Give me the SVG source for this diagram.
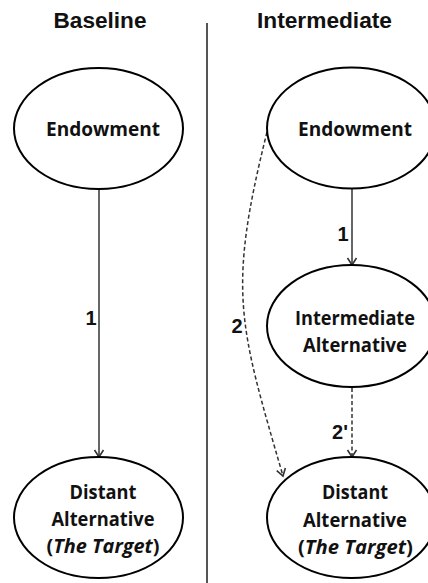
<svg xmlns="http://www.w3.org/2000/svg" width="428" height="583" viewBox="0 0 428 583">
  <defs>
    <marker id="arr" markerUnits="userSpaceOnUse" markerWidth="12" markerHeight="12" viewBox="0 0 12 12" refX="9" refY="6" orient="auto">
      <path d="M2,1.5 L9,6 L2,10.5" fill="none" stroke="#333" stroke-width="1.6"/>
    </marker>
  </defs>
  <style>
    .title { font-family: "Liberation Sans", Arial, sans-serif; font-weight: bold; font-size: 22px; fill: #111; text-anchor: middle; }
    .node ellipse { fill: #fff; stroke: #000; stroke-width: 2; }
    .node text { font-family: "Open Sans", "Liberation Sans", sans-serif; font-weight: bold; font-size: 19px; fill: #111; text-anchor: middle; }
    .conn { fill: none; stroke: #333; stroke-width: 1.5; }
    .dash { stroke-dasharray: 4 2.5; }
    .lbl { font-family: "Liberation Sans", Arial, sans-serif; font-weight: bold; font-size: 20px; fill: #111; text-anchor: middle; }
    .it { font-style: italic; }
  </style>
  <rect width="428" height="583" fill="#fff"/>

  <text class="title" x="100" y="28" textLength="93" lengthAdjust="spacingAndGlyphs">Baseline</text>
  <text class="title" x="324.5" y="28" textLength="135" lengthAdjust="spacingAndGlyphs">Intermediate</text>
  <line x1="207" y1="23" x2="207" y2="583" stroke="#555" stroke-width="2"/>

  <g id="connectors">
    <line class="conn" x1="99" y1="190" x2="99" y2="457" marker-end="url(#arr)"/>
    <line class="conn" x1="352" y1="189" x2="352" y2="265" marker-end="url(#arr)"/>
    <line class="conn dash" x1="352" y1="388" x2="352" y2="457" marker-end="url(#arr)"/>
    <path class="conn dash" d="M267,132 C227,292 239,324 283,476" marker-end="url(#arr)"/>
    <text class="lbl" x="91" y="325">1</text>
    <text class="lbl" x="343" y="241">1</text>
    <text class="lbl" x="237" y="333">2</text>
    <text class="lbl" x="340" y="439">2'</text>
  </g>

  <g id="baseline-endowment" class="node">
    <ellipse cx="98.5" cy="128.5" rx="84.5" ry="60.5"/>
    <text x="103" y="136" textLength="114" lengthAdjust="spacingAndGlyphs">Endowment</text>
  </g>
  <g id="baseline-distant" class="node">
    <ellipse cx="98.5" cy="517.5" rx="84.5" ry="60.5"/>
    <text x="103" y="499" textLength="67" lengthAdjust="spacingAndGlyphs">Distant</text>
    <text x="103" y="526" textLength="103" lengthAdjust="spacingAndGlyphs">Alternative</text>
    <text x="103" y="553" textLength="113" lengthAdjust="spacingAndGlyphs">(<tspan class="it">The Target</tspan>)</text>
  </g>
  <g id="intermediate-endowment" class="node">
    <ellipse cx="351.5" cy="128" rx="84.5" ry="60.5"/>
    <text x="355" y="136" textLength="114" lengthAdjust="spacingAndGlyphs">Endowment</text>
  </g>
  <g id="intermediate-alternative" class="node">
    <ellipse cx="351.5" cy="326" rx="84.5" ry="61"/>
    <text x="355" y="325" textLength="120" lengthAdjust="spacingAndGlyphs">Intermediate</text>
    <text x="355" y="352" textLength="104" lengthAdjust="spacingAndGlyphs">Alternative</text>
  </g>
  <g id="intermediate-distant" class="node">
    <ellipse cx="351.5" cy="517.5" rx="84.5" ry="60.5"/>
    <text x="355" y="499" textLength="66" lengthAdjust="spacingAndGlyphs">Distant</text>
    <text x="355" y="527" textLength="104" lengthAdjust="spacingAndGlyphs">Alternative</text>
    <text x="355.5" y="554" textLength="115" lengthAdjust="spacingAndGlyphs">(<tspan class="it">The Target</tspan>)</text>
  </g>
</svg>
